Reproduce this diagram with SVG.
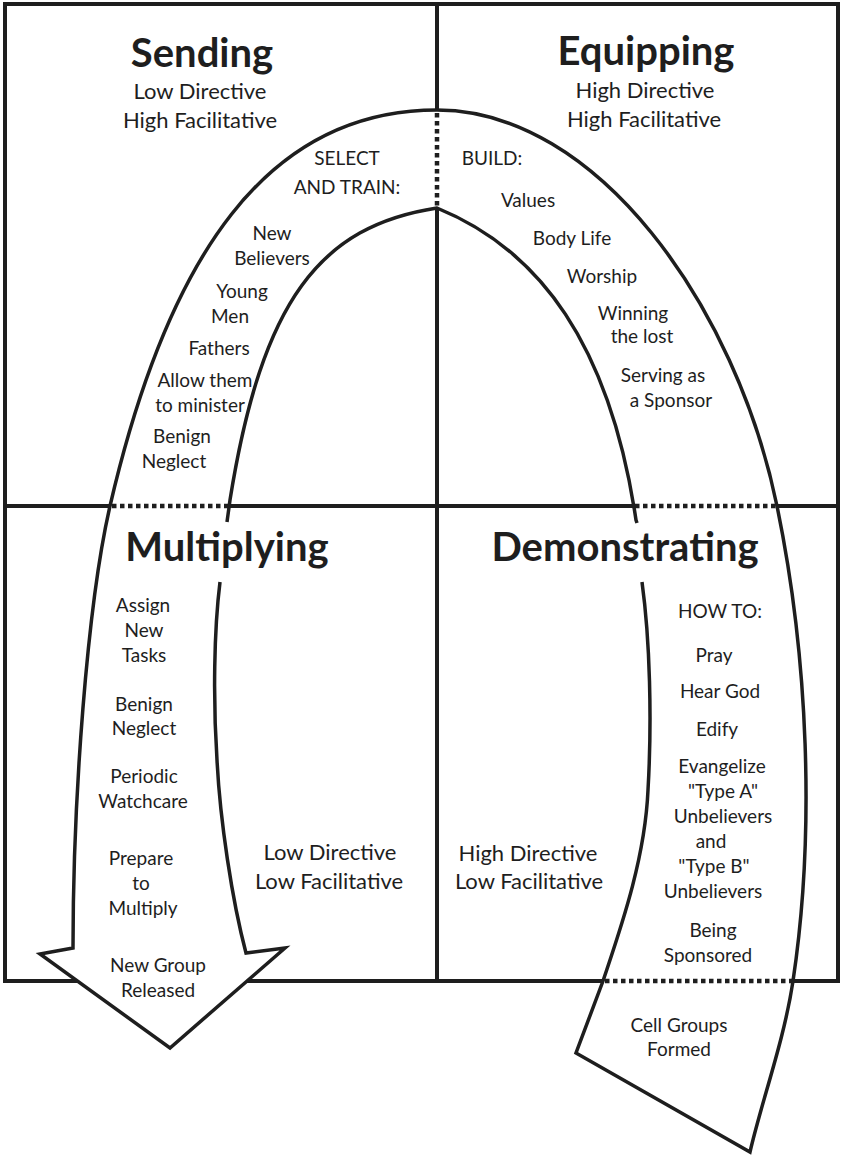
<svg xmlns="http://www.w3.org/2000/svg" width="845" height="1155" viewBox="0 0 845 1155">
<style>
.frame{stroke:#1e1e1e;stroke-width:4;fill:none}
.dot{stroke:#1e1e1e;stroke-width:4.5;stroke-dasharray:4.5 3.5;fill:none}
.edge{stroke:#1e1e1e;stroke-width:3.5;fill:none;stroke-linejoin:miter}
text{font-family:Lato,"Open Sans",sans-serif;fill:#1e1e1e;text-anchor:middle}
.h{font-size:40px;font-weight:bold}
.s{font-size:22px}
.b{font-size:19px}
</style>
<rect width="845" height="1155" fill="#fff"/>
<g id="frame">
<path class="frame" d="M77,981 H5 V4 H838 V981 H793 M247,981 H603 M437,4 V110 M437,208 V981 M5,506 H110 M229,506 H633 M777,506 H838"/>
<path class="dot" d="M437,113 V206 M112,506 H228 M635,506 H776 M605,981 H792"/>
</g>
<g id="connectors">
<path id="flow-outer" class="edge" d="M220,582 C214,630 213,700 217,760 C220,820 232,900 246,953 L285,948 L170,1048 L40,954 L73,948 C73,800 87,606 110,506 C168,256 267,110 437,110 C597,110 736,306 777,506 C808,656 815.5,831 793,981 C784,1041 762,1100 750,1152 L576,1053 L603,981 C620,930 645,860 648,790 C652,720 650,640 642,582"/>
<path id="flow-inner" class="edge" d="M227,522 L230,500 C262,300 320,226 437,208 C540,250 610,345 636,520 L637,523"/>
</g>
<g id="sending">
<text class="h" x="202" y="67">Sending</text>
<text class="s" x="200" y="99">Low Directive</text>
<text class="s" x="200" y="128">High Facilitative</text>
<text class="b" x="347" y="165">SELECT</text>
<text class="b" x="347" y="194">AND TRAIN:</text>
<text class="b" x="272" y="240">New</text>
<text class="b" x="272" y="265">Believers</text>
<text class="b" x="242" y="298">Young</text>
<text class="b" x="230" y="323">Men</text>
<text class="b" x="219" y="355">Fathers</text>
<text class="b" x="205" y="387">Allow them</text>
<text class="b" x="200" y="412">to minister</text>
<text class="b" x="182" y="443">Benign</text>
<text class="b" x="174" y="468">Neglect</text>
</g>
<g id="equipping">
<text class="h" x="646" y="65">Equipping</text>
<text class="s" x="645" y="98">High Directive</text>
<text class="s" x="644" y="127">High Facilitative</text>
<text class="b" x="492" y="165">BUILD:</text>
<text class="b" x="528" y="207">Values</text>
<text class="b" x="572" y="245">Body Life</text>
<text class="b" x="602" y="283">Worship</text>
<text class="b" x="633" y="320">Winning</text>
<text class="b" x="642" y="343">the lost</text>
<text class="b" x="663" y="382">Serving as</text>
<text class="b" x="671" y="407">a Sponsor</text>
</g>
<g id="multiplying">
<text class="h" x="227" y="561">Multiplying</text>
<text class="b" x="143" y="612">Assign</text>
<text class="b" x="144" y="637">New</text>
<text class="b" x="144" y="662">Tasks</text>
<text class="b" x="144" y="711">Benign</text>
<text class="b" x="144" y="735">Neglect</text>
<text class="b" x="144" y="783">Periodic</text>
<text class="b" x="143" y="808">Watchcare</text>
<text class="b" x="141" y="865">Prepare</text>
<text class="b" x="141" y="890">to</text>
<text class="b" x="143" y="915">Multiply</text>
<text class="b" x="158" y="972">New Group</text>
<text class="b" x="158" y="997">Released</text>
<text class="s" x="330" y="860">Low Directive</text>
<text class="s" x="329" y="889">Low Facilitative</text>
</g>
<g id="demonstrating">
<text class="h" x="625" y="561">Demonstrating</text>
<text class="s" x="528" y="861">High Directive</text>
<text class="s" x="529" y="889">Low Facilitative</text>
<text class="b" x="720" y="618">HOW TO:</text>
<text class="b" x="714" y="662">Pray</text>
<text class="b" x="720" y="698">Hear God</text>
<text class="b" x="717" y="736">Edify</text>
<text class="b" x="722" y="773">Evangelize</text>
<text class="b" x="723" y="798">"Type A"</text>
<text class="b" x="723" y="823">Unbelievers</text>
<text class="b" x="711" y="848">and</text>
<text class="b" x="714" y="873">"Type B"</text>
<text class="b" x="713" y="898">Unbelievers</text>
<text class="b" x="713" y="937">Being</text>
<text class="b" x="708" y="962">Sponsored</text>
<text class="b" x="679" y="1032">Cell Groups</text>
<text class="b" x="679" y="1056">Formed</text>
</g>
</svg>
